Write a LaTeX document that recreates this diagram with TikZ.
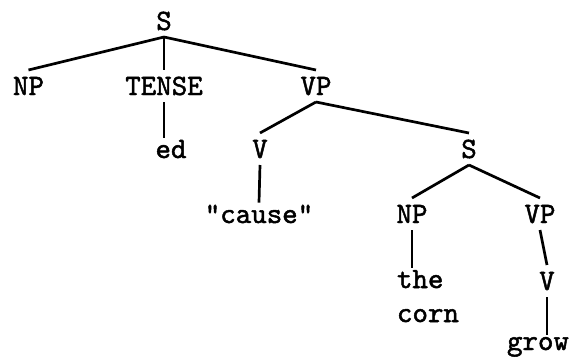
\documentclass[tikz,border=0pt]{standalone}
\usepackage{fontspec}
\usepackage{tikz}
\newfontfamily\twfont{lmmono10-regular.otf}[FakeBold=1.6]

\begin{document}
\begin{tikzpicture}[x=1pt,y=-1pt,
    cat/.style={font=\twfont\fontsize{29.5}{34}\selectfont,anchor=base,
      inner sep=1pt,outer sep=6pt,text height=18pt,text depth=0pt},
    leaf/.style={font=\twfont\fontsize{29.5}{34}\selectfont,anchor=base,
      inner sep=1pt,outer sep=1pt},
    br/.style={line width=2.7pt}]
              %\draw[help lines](0,0) grid[step=20] (571,357);
              \useasboundingbox (0,0) rectangle (571,357);
              \draw (164,30) node[cat] (s1) {S};
              \draw (28.5,95) node[cat] (np1) {NP};
              \draw (164,95) node[cat] (tense) {TENSE};
              \draw (316,95) node[cat] (vp1) {VP};
              \draw (171,158) node[leaf] (ed) {ed};
              \draw (260,158) node[cat] (v1) {V};
              \draw (259,223) node[leaf] (cause) {"cause"};
              \draw (469,158) node[cat] (s2) {S};
              \draw (412,223) node[cat] (np2) {NP};
              \draw (540,223) node[cat] (vp2) {VP};
              \draw (395,268) node[leaf,anchor=north west,align=left] (thecorn) {the\\corn};
              \draw (547,290) node[cat] (v2) {V};
              \draw (538,350) node[leaf] (grow) {grow};

              \draw[br] (s1.south)--(np1.north);
              \draw[br] (s1.south)--(tense.north);
              \draw[br] (s1.south)--(vp1.north);
              \draw[br] (tense.south)--(tense.south |- ed.north);

              \draw[br] (vp1.south)--(v1.north);
              \draw[br] (v1.south)--(cause.north);
              \draw[br] (vp1.south)--(s2.north);

              \draw[br] (s2.south)--(np2.north);
              \draw[br] (s2.south)--(vp2.north);
              \draw[br] (np2.south)--(np2.south |- thecorn.north);
              \draw[br] (vp2.south)--(v2.north);
              \draw[br] (v2.south)--(v2.south |- grow.north);
            \end{tikzpicture}
\end{document}
